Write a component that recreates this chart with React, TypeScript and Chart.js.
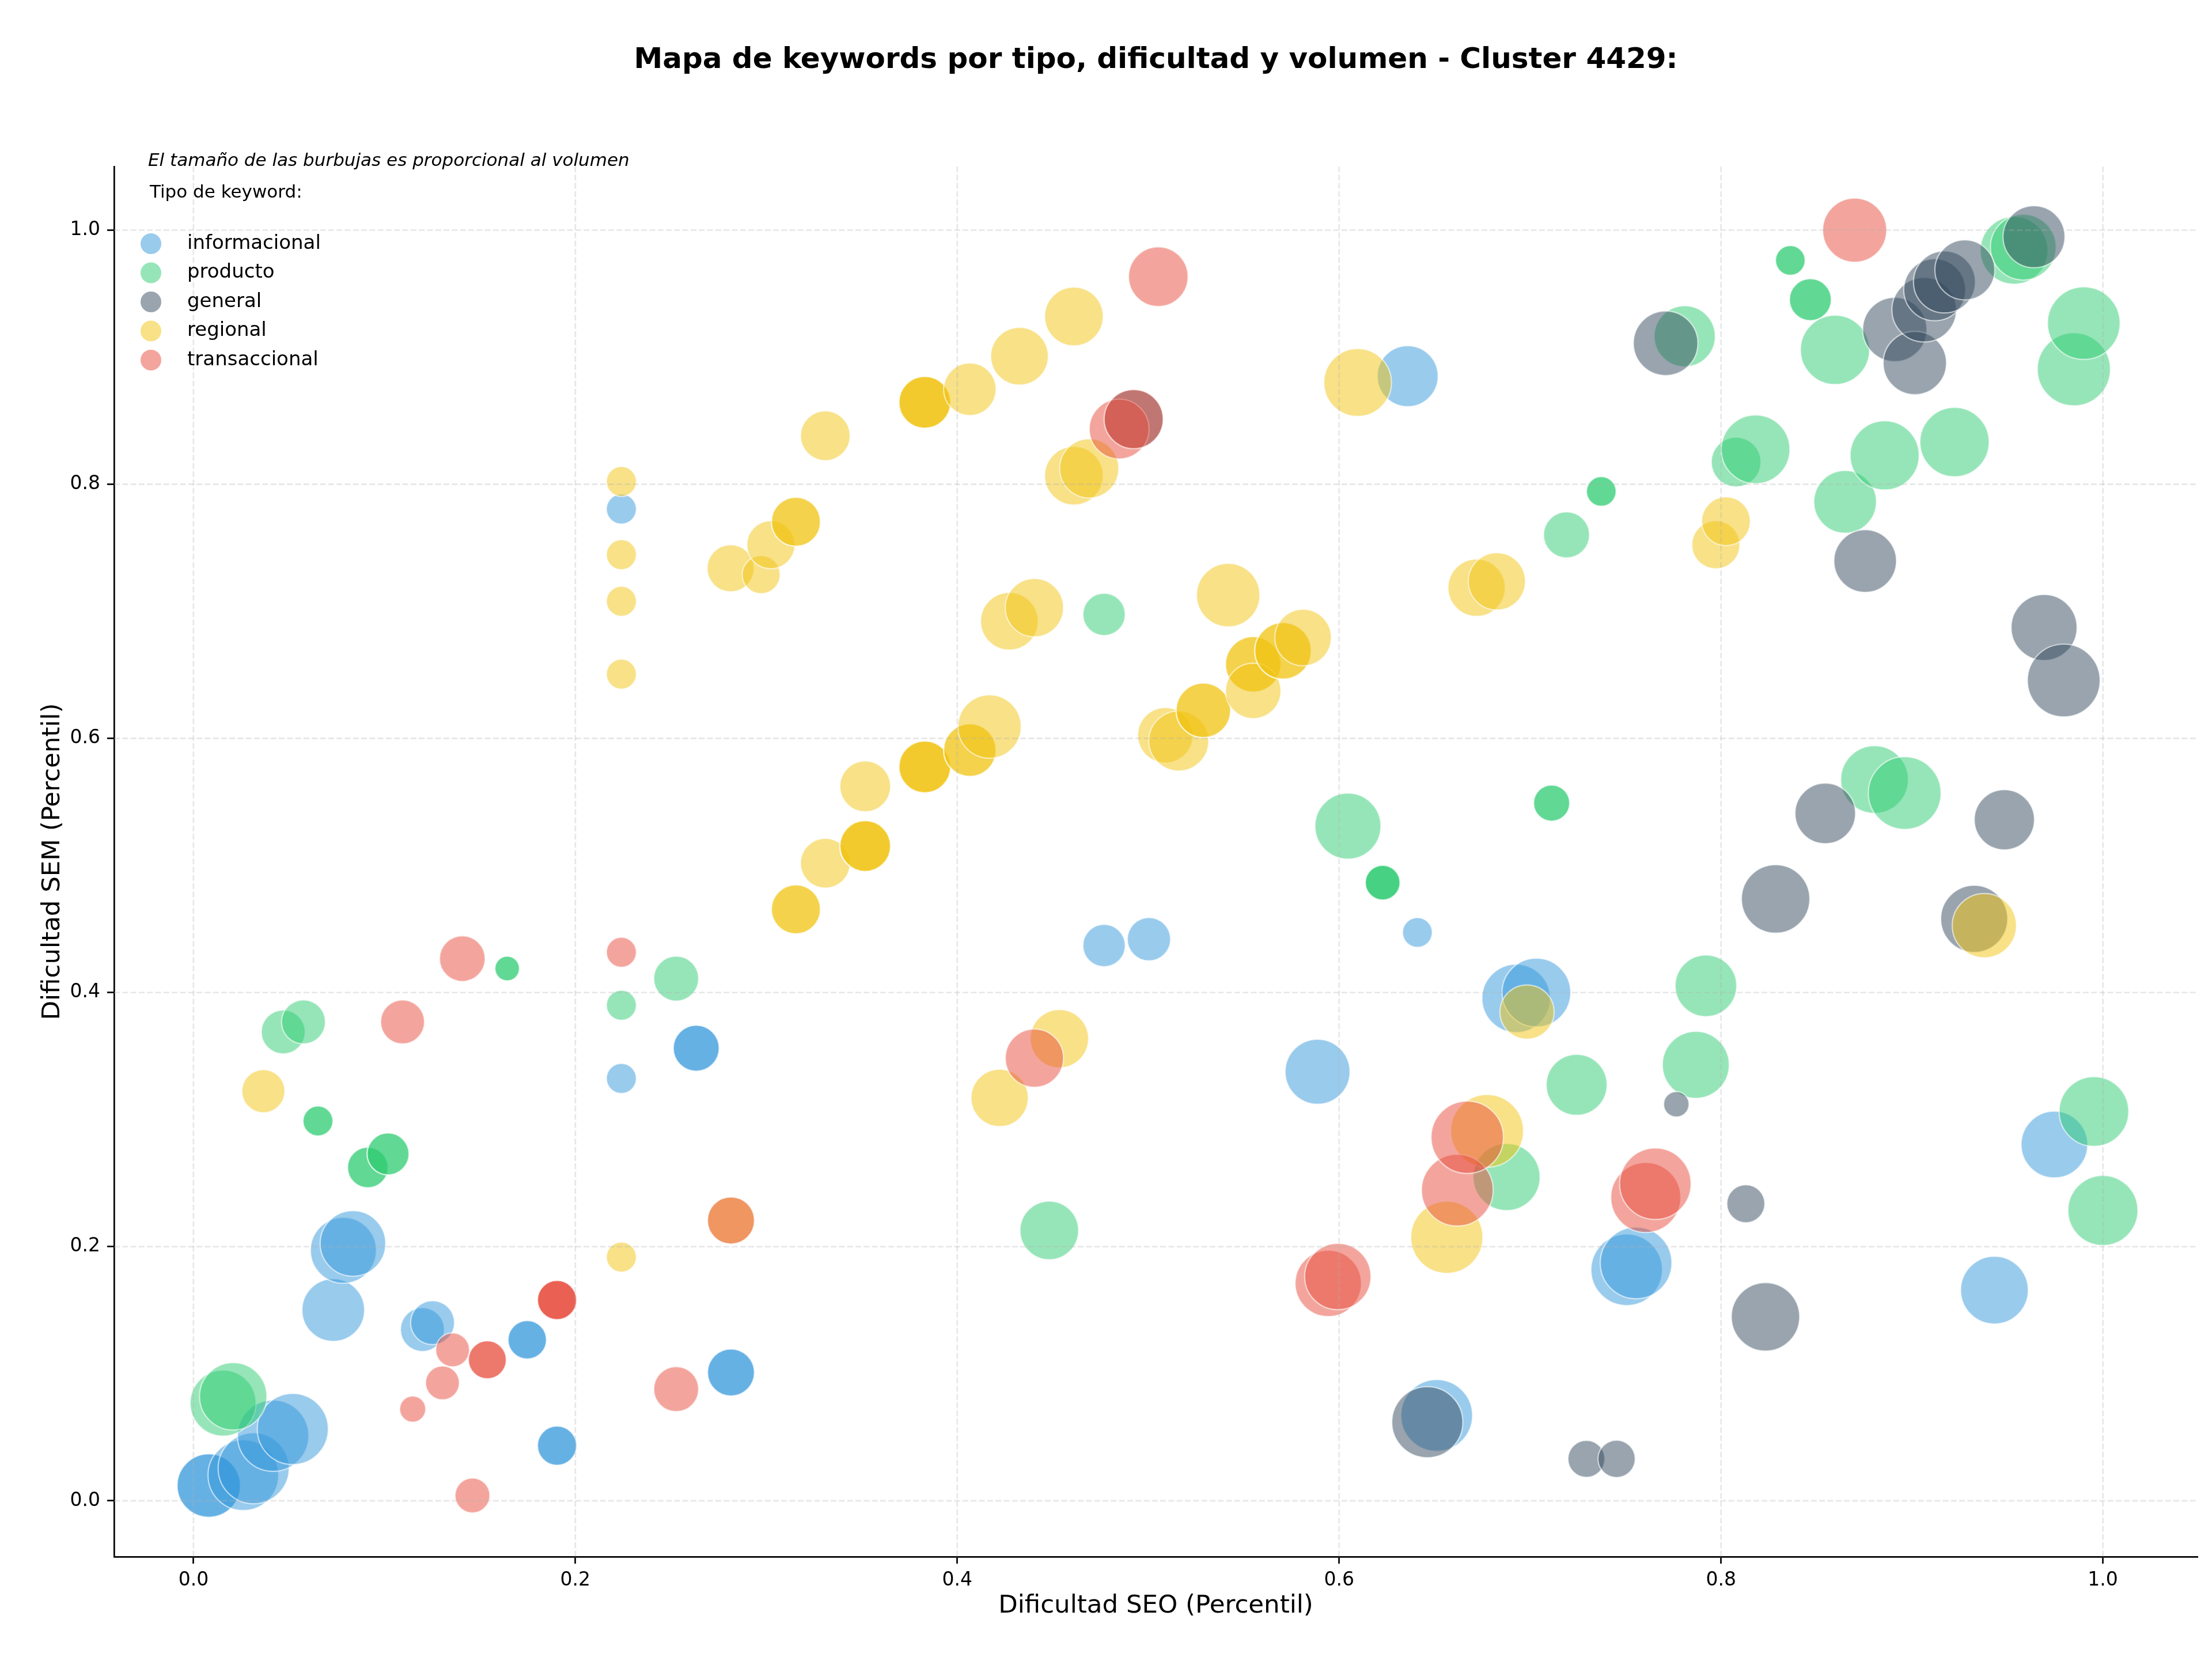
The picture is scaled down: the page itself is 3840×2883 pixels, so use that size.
import React, { useEffect, useRef } from "react";
import { Chart, registerables } from "chart.js";

Chart.register(...registerables);

const FONT = "'DejaVu Sans', 'Liberation Sans', Arial, sans-serif";

const titulo = "Mapa de keywords por tipo, dificultad y volumen - Cluster 4429:";
const nota = "El tamaño de las burbujas es proporcional al volumen";
const tituloLeyenda = "Tipo de keyword:";
const ejeX = "Dificultad SEO (Percentil)";
const ejeY = "Dificultad SEM (Percentil)";

const categorias = ["informacional", "producto", "general", "regional", "transaccional"];
const colores = ["#3498db", "#2ecc71", "#34495e", "#f1c40f", "#e74c3c"];

const xTicks = [0, 0.2, 0.4, 0.6, 0.8, 1.0];
const xTickLabels = ["0.0", "0.2", "0.4", "0.6", "0.8", "1.0"];
const yTicks = [0, 0.2, 0.4, 0.6, 0.8, 1.0];
const yTickLabels = ["0.0", "0.2", "0.4", "0.6", "0.8", "1.0"];

// informacional
const infoSeo = [0.008, 0.008, 0.0261, 0.0315, 0.0417, 0.052, 0.0732, 0.0785, 0.0835, 0.1199, 0.1252, 0.1748, 0.1748, 0.1904, 0.1904, 0.2241, 0.2241, 0.2633, 0.2633, 0.2815, 0.2815, 0.4769, 0.5004, 0.5887, 0.6359, 0.641, 0.6511, 0.6927, 0.7033, 0.7506, 0.7555, 0.9432, 0.9746];
const infoSem = [0.012, 0.012, 0.0202, 0.0256, 0.0512, 0.0565, 0.1501, 0.1971, 0.2025, 0.1348, 0.1402, 0.1267, 0.1267, 0.0434, 0.0434, 0.7805, 0.3324, 0.3562, 0.3562, 0.101, 0.101, 0.437, 0.442, 0.3377, 0.8851, 0.4473, 0.0672, 0.3954, 0.4, 0.1818, 0.1872, 0.1658, 0.2804];
const infoVol = [756, 756, 939, 949, 958, 949, 737, 818, 809, 363, 363, 279, 279, 289, 289, 169, 169, 398, 398, 416, 416, 337, 352, 792, 697, 166, 967, 879, 888, 961, 967, 861, 835];

// producto
const prodSeo = [0.0155, 0.0208, 0.047, 0.0576, 0.0652, 0.0652, 0.0913, 0.0913, 0.1019, 0.1019, 0.1643, 0.1643, 0.2241, 0.2528, 0.4482, 0.4769, 0.6046, 0.6228, 0.6228, 0.6228, 0.6877, 0.7113, 0.7113, 0.7191, 0.7244, 0.7373, 0.7373, 0.781, 0.7868, 0.7921, 0.8079, 0.8181, 0.8363, 0.8363, 0.8468, 0.8468, 0.8597, 0.865, 0.8804, 0.8857, 0.8962, 0.9223, 0.9535, 0.9583, 0.9848, 0.99, 0.9953, 1.0];
const prodSem = [0.0769, 0.0822, 0.369, 0.3769, 0.2989, 0.2989, 0.2623, 0.2623, 0.273, 0.273, 0.4189, 0.4189, 0.39, 0.411, 0.2128, 0.6976, 0.531, 0.4865, 0.4865, 0.4865, 0.2548, 0.5491, 0.5491, 0.7602, 0.3274, 0.7944, 0.7944, 0.9165, 0.3431, 0.4053, 0.8175, 0.8275, 0.9762, 0.9762, 0.9453, 0.9453, 0.9058, 0.7862, 0.5676, 0.8228, 0.557, 0.8332, 0.9841, 0.9866, 0.8905, 0.9268, 0.3064, 0.2285];
const prodVol = [818, 853, 363, 363, 169, 169, 310, 310, 331, 331, 114, 114, 169, 380, 645, 337, 818, 228, 228, 228, 844, 246, 246, 398, 697, 166, 166, 702, 841, 713, 464, 888, 166, 166, 331, 331, 900, 737, 861, 897, 995, 903, 861, 812, 1005, 992, 912, 921];

// general
const genSeo = [0.4924, 0.6462, 0.7295, 0.7453, 0.771, 0.7766, 0.813, 0.8233, 0.8286, 0.8546, 0.8755, 0.891, 0.9015, 0.9064, 0.9119, 0.917, 0.9277, 0.9326, 0.9484, 0.9639, 0.9692, 0.9795];
const genSem = [0.8513, 0.0619, 0.033, 0.033, 0.911, 0.3121, 0.2338, 0.1448, 0.4737, 0.541, 0.7396, 0.9218, 0.8955, 0.9374, 0.9531, 0.9592, 0.9687, 0.458, 0.536, 0.9948, 0.6873, 0.6456];
const genVol = [658, 949, 256, 261, 784, 121, 271, 879, 879, 689, 737, 776, 754, 784, 721, 721, 676, 844, 681, 721, 818, 995];

// regional
const regSeo = [0.0366, 0.2241, 0.2241, 0.2241, 0.2241, 0.2241, 0.2813, 0.2815, 0.2973, 0.3024, 0.3155, 0.3155, 0.3155, 0.3155, 0.3309, 0.3309, 0.3518, 0.3518, 0.3518, 0.3518, 0.383, 0.383, 0.383, 0.383, 0.383, 0.383, 0.4066, 0.4066, 0.4066, 0.4169, 0.4222, 0.4273, 0.4326, 0.4404, 0.4535, 0.4611, 0.4611, 0.4691, 0.509, 0.516, 0.5289, 0.5289, 0.5419, 0.555, 0.555, 0.555, 0.5706, 0.5706, 0.5811, 0.6097, 0.6564, 0.672, 0.6775, 0.6826, 0.6984, 0.7973, 0.8026, 0.9379];
const regSem = [0.3224, 0.8022, 0.7446, 0.7079, 0.6506, 0.1918, 0.7339, 0.2206, 0.7289, 0.7524, 0.7705, 0.7705, 0.4655, 0.4655, 0.8382, 0.5018, 0.5623, 0.5153, 0.5153, 0.5153, 0.8645, 0.8645, 0.8645, 0.5776, 0.5776, 0.5776, 0.8748, 0.5908, 0.5908, 0.6093, 0.3171, 0.6922, 0.9008, 0.7029, 0.3637, 0.9321, 0.8068, 0.8125, 0.6025, 0.598, 0.6221, 0.6221, 0.7128, 0.6583, 0.6583, 0.6374, 0.6689, 0.6689, 0.6794, 0.8801, 0.2074, 0.7186, 0.2911, 0.7236, 0.3847, 0.7524, 0.7709, 0.4527];
const regVol = [348, 169, 169, 169, 169, 169, 416, 416, 271, 435, 452, 452, 452, 452, 464, 464, 484, 484, 484, 484, 504, 504, 504, 504, 504, 504, 518, 518, 518, 754, 615, 623, 623, 638, 638, 645, 645, 658, 576, 676, 557, 557, 754, 578, 578, 576, 600, 600, 600, 861, 977, 615, 995, 615, 552, 435, 447, 776];

// transaccional
const tranSeo = [0.1095, 0.1148, 0.1304, 0.1357, 0.1408, 0.1461, 0.1539, 0.1539, 0.1904, 0.1904, 0.1904, 0.2241, 0.2528, 0.2815, 0.4404, 0.4848, 0.4924, 0.5053, 0.5943, 0.5993, 0.6619, 0.6671, 0.7606, 0.7656, 0.87];
const tranSem = [0.3769, 0.0722, 0.0928, 0.1188, 0.4267, 0.0042, 0.111, 0.111, 0.158, 0.158, 0.158, 0.4317, 0.0879, 0.2206, 0.3484, 0.8435, 0.8513, 0.9634, 0.1711, 0.1765, 0.2445, 0.2861, 0.2387, 0.2495, 1.0];
const tranVol = [363, 128, 215, 215, 392, 228, 271, 271, 289, 289, 289, 169, 380, 416, 638, 673, 658, 666, 827, 827, 967, 986, 921, 961, 770];

const series = [
  { seo: infoSeo, sem: infoSem, vol: infoVol },
  { seo: prodSeo, sem: prodSem, vol: prodVol },
  { seo: genSeo, sem: genSem, vol: genVol },
  { seo: regSeo, sem: regSem, vol: regVol },
  { seo: tranSeo, sem: tranSem, vol: tranVol },
];

// bubble area proportional to volume
const radioDesdeVolumen = (v: number) => 2 * Math.sqrt(v);

const rgba = (hex: string, a: number) => {
  const n = parseInt(hex.slice(1), 16);
  return `rgba(${(n >> 16) & 255}, ${(n >> 8) & 255}, ${n & 255}, ${a})`;
};

const ALPHA = 0.5;

const gridOnTop = {
  id: "gridOnTop",
  afterDatasetsDraw(chart: any) {
    const { ctx, chartArea: a, scales } = chart;
    ctx.save();
    ctx.strokeStyle = "rgba(176,176,176,0.3)";
    ctx.lineWidth = 2.7;
    ctx.setLineDash([10, 4.3]);
    for (const v of xTicks) {
      const px = scales.x.getPixelForValue(v);
      ctx.beginPath();
      ctx.moveTo(px, a.top);
      ctx.lineTo(px, a.bottom);
      ctx.stroke();
    }
    for (const v of yTicks) {
      const py = scales.y.getPixelForValue(v);
      ctx.beginPath();
      ctx.moveTo(a.left, py);
      ctx.lineTo(a.right, py);
      ctx.stroke();
    }
    ctx.restore();
  },
};

const textos = {
  id: "textos",
  afterDraw(chart: any) {
    const { ctx, chartArea: a } = chart;
    ctx.save();
    ctx.fillStyle = "#000";

    // title
    ctx.font = `bold 50px ${FONT}`;
    ctx.textAlign = "center";
    ctx.textBaseline = "alphabetic";
    ctx.fillText(titulo, (a.left + a.right) / 2, a.top - 171);

    // axis titles
    ctx.font = `43.5px ${FONT}`;
    ctx.fillText(ejeX, (a.left + a.right) / 2, a.bottom + 97);
    ctx.save();
    ctx.translate(a.left - 95, (a.top + a.bottom) / 2);
    ctx.rotate(-Math.PI / 2);
    ctx.fillText(ejeY, 0, 0);
    ctx.restore();

    // note and legend
    ctx.textAlign = "left";
    ctx.font = `italic 31px ${FONT}`;
    ctx.fillText(nota, a.left + 59, a.top - 1);
    ctx.font = `31px ${FONT}`;
    ctx.fillText(tituloLeyenda, a.left + 62, a.top + 54);

    ctx.font = `34px ${FONT}`;
    ctx.textBaseline = "middle";
    categorias.forEach((c, i) => {
      const cy = a.top + 134 + i * 50.5;
      ctx.beginPath();
      ctx.arc(a.left + 64, cy, 18, 0, Math.PI * 2);
      ctx.fillStyle = rgba(colores[i], ALPHA);
      ctx.fill();
      ctx.fillStyle = "#000";
      ctx.fillText(c, a.left + 127, cy);
    });
    ctx.restore();
  },
};

export default function App() {
  const ref = useRef<HTMLCanvasElement | null>(null);

  useEffect(() => {
    if (!ref.current) return;
    const datasets = series.map((s, i) => ({
      label: categorias[i],
      data: s.seo.map((x, j) => ({ x, y: s.sem[j], r: radioDesdeVolumen(s.vol[j]) })),
      backgroundColor: rgba(colores[i], ALPHA),
      borderColor: "rgba(255,255,255,0.6)",
      borderWidth: 2.2,
      hoverBorderWidth: 2.2,
      order: categorias.length - i,
    }));

    const tickFont = { family: FONT, size: 33 };

    const chart = new Chart(ref.current, {
      type: "bubble",
      data: { datasets },
      options: {
        animation: false,
        responsive: false,
        devicePixelRatio: 1,
        events: [],
        layout: { autoPadding: false, padding: { top: 289, left: 0, right: 25, bottom: 0 } },
        plugins: {
          legend: { display: false },
          tooltip: { enabled: false },
          title: { display: false },
        },
        scales: {
          x: {
            type: "linear",
            min: -0.0416,
            max: 1.0496,
            afterBuildTicks: (scale: any) => {
              scale.ticks = xTicks.map((v) => ({ value: v }));
            },
            afterFit: (scale: any) => {
              scale.height = 181;
            },
            ticks: {
              font: tickFont,
              color: "#000",
              padding: 10,
              maxRotation: 0,
              autoSkip: false,
              callback: (_v: any, i: number) => xTickLabels[i],
            },
            grid: {
              drawOnChartArea: false,
              drawTicks: true,
              tickLength: 12,
              tickColor: "#000",
              tickWidth: 2.7,
              color: "rgba(0,0,0,0)",
            },
            border: { display: true, color: "#000", width: 2.7 },
          },
          y: {
            type: "linear",
            min: -0.044,
            max: 1.0501,
            afterBuildTicks: (scale: any) => {
              scale.ticks = yTicks.map((v) => ({ value: v }));
            },
            afterFit: (scale: any) => {
              scale.width = 198;
            },
            ticks: {
              font: tickFont,
              color: "#000",
              padding: 12,
              autoSkip: false,
              callback: (_v: any, i: number) => yTickLabels[i],
            },
            grid: {
              drawOnChartArea: false,
              drawTicks: true,
              tickLength: 12,
              tickColor: "#000",
              tickWidth: 2.7,
              color: "rgba(0,0,0,0)",
            },
            border: { display: true, color: "#000", width: 2.7 },
          },
        },
      },
      plugins: [gridOnTop, textos],
    } as any);

    return () => chart.destroy();
  }, []);

  return (
    <div style={{ position: "absolute", left: 0, top: 0, width: 3840, height: 2883, background: "#fff" }}>
      <canvas ref={ref} width={3840} height={2883} style={{ width: 3840, height: 2883, display: "block" }} />
    </div>
  );
}
